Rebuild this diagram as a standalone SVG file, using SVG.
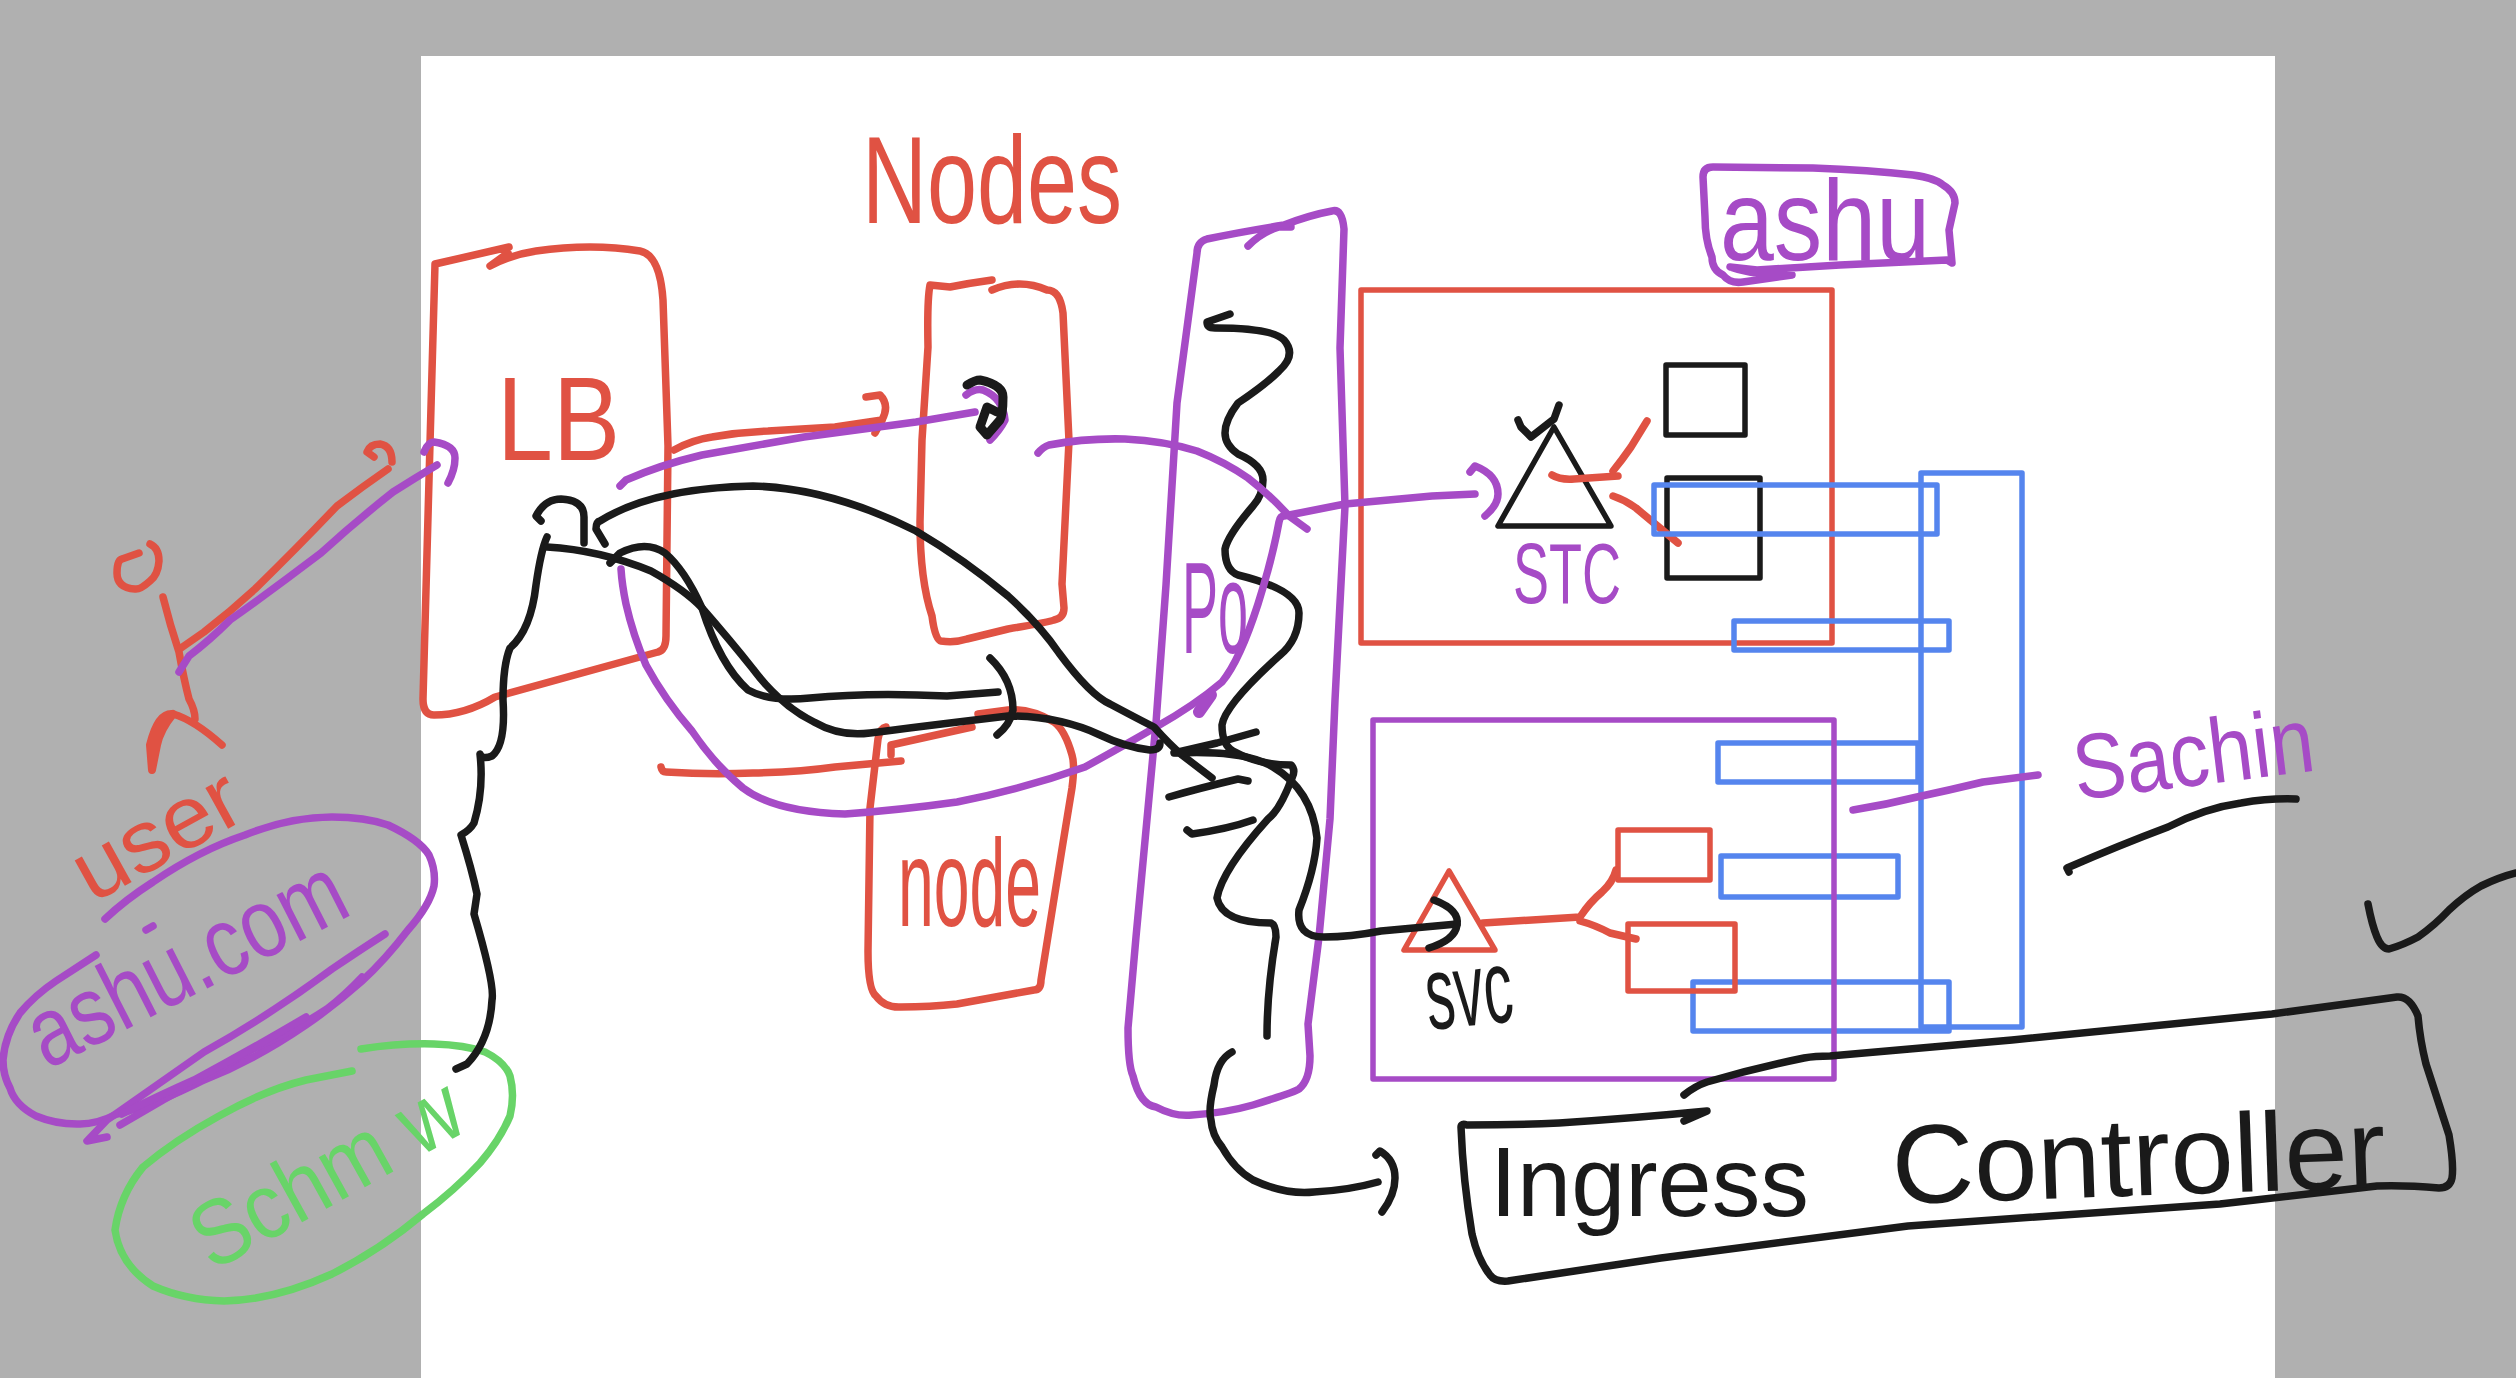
<svg xmlns="http://www.w3.org/2000/svg" width="2516" height="1378" viewBox="0 0 2516 1378">
<style>
path,polygon,rect{fill:none;stroke-linecap:round;stroke-linejoin:round;stroke-width:7.5}
rect,polygon{stroke-width:5.5}
.r{stroke:#E05243}.p{stroke:#A64BC6}.u{stroke:#5585EE}.g{stroke:#68D468}.k{stroke:#1A1A1A}
text{font-family:"Liberation Sans",Arial,sans-serif}
.tr{fill:#E05243}.tp{fill:#A64BC6}.tg{fill:#68D468}.tk{fill:#1A1A1A}
</style>
<rect width="2516" height="1378" style="fill:#B0B0B0;stroke:none"/>
<rect x="421" y="56" width="1854" height="1322" style="fill:#FFFFFF;stroke:none"/>

<g id="user">
<path class="r" d="M150,544 Q159,548 159,561 Q158,575 150,581 Q140,590 135,589 Q117,588 117,573 Q117,560 122,559 L139,553"/>
<path class="r" d="M163,597 Q170,625 179,652 Q184,680 189,699 Q195,710 195,719"/>
<path class="r" d="M173,714 Q194,720 222,745"/>
<path class="r" d="M173,714 Q158,712 150,745 L152,770 L157,745 Q160,730 173,714" style="stroke-width:8"/>
<text class="tr" transform="translate(92,904) rotate(-29)" font-size="88" textLength="180" lengthAdjust="spacingAndGlyphs">user</text>
</g>

<g id="ashu-com">
<path class="p" d="M105,919 Q125,900 153,882 Q200,850 245,835 Q290,817 332,817 Q365,817 388,825 Q420,840 429,855 Q436,870 434,886 Q430,905 408,930 Q385,960 362,981 Q335,1005 306,1025 Q255,1060 204,1080 Q155,1105 117,1114 Q95,1125 77,1124 Q55,1124 36,1116 Q15,1105 10,1088 Q3,1075 3,1060 Q5,1035 20,1013 Q35,995 56,981 L96,955"/>
<path class="p" d="M385,934 Q360,950 332,969 Q270,1015 204,1052 Q150,1090 107,1120 L87,1141 L107,1137"/>
<path class="p" d="M120,1125 L163,1100 Q210,1075 255,1048 Q295,1030 327,1009 Q345,995 362,977"/>
<path class="p" d="M122,1114 Q160,1095 194,1080 Q250,1050 306,1017"/>
<path class="p" d="M146,930 L153,926"/>
<text class="tp" transform="translate(47,1070) rotate(-27)" font-size="98" textLength="345" lengthAdjust="spacingAndGlyphs">ashu.com</text>
</g>

<g id="schin">
<path class="g" d="M361,1049 Q400,1043 434,1044 Q465,1045 485,1052 Q505,1062 510,1076 Q515,1095 510,1116 Q500,1140 480,1163 Q455,1190 423,1214 Q380,1250 332,1274 Q275,1300 224,1301 Q185,1300 153,1286 Q120,1265 115,1230 Q120,1195 143,1167 Q175,1140 219,1116 Q265,1090 306,1080 L352,1071"/>
<text class="tg" transform="translate(212,1272) rotate(-29)" font-size="92" textLength="296" lengthAdjust="spacingAndGlyphs">Schm w</text>
</g>

<g id="lb">
<path class="r" d="M509,247 L435,264 L431,407 L423,699 Q423,715 434,715 Q465,715 495,697 L658,652 Q666,650 666,636 L668,446 L663,300 Q660,255 640,251 Q592,243 536,251 Q510,255 490,266 L508,253"/>
<text class="tr" x="497" y="460" font-size="118" textLength="123" lengthAdjust="spacingAndGlyphs">LB</text>
</g>

<g id="nodes-label">
<text class="tr" x="862" y="223" font-size="125" textLength="260" lengthAdjust="spacingAndGlyphs">Nodes</text>
</g>

<g id="node-1">
<path class="r" d="M992,280 Q970,283 950,287 L930,285 Q927,300 928,347 L922,440 L920,522 Q920,580 932,616 Q935,640 941,641 Q955,643 967,639 L1008,629 Q1050,622 1054,620 Q1064,618 1064,608 L1062,584 L1069,441 L1063,313 Q1060,290 1047,290 Q1020,278 992,290"/>
</g>

<g id="node-2">
<path class="r" d="M886,727 Q880,728 878,739 L870,808 L868,951 Q868,990 876,996 Q885,1008 901,1007 Q930,1007 957,1004 L1034,990 Q1041,990 1041,980 L1062,849 L1072,788 Q1075,765 1072,755 Q1065,730 1054,722 Q1030,708 1008,710 L978,714"/>
<path class="r" d="M661,767 Q662,772 666,772 Q710,775 753,773 Q800,772 835,767 L901,761"/>
<path class="r" d="M891,755 L891,745 L972,727"/>
<text class="tr" x="898" y="926" font-size="125" textLength="143" lengthAdjust="spacingAndGlyphs">node</text>
</g>

<g id="pods">
<path class="p" d="M1248,246 Q1262,232 1279,227 L1291,227"/>
<path class="p" d="M1284,225 Q1240,232 1207,239 Q1197,242 1197,253 L1177,403 L1166,585 L1156,723 L1136,937 L1128,1028 Q1128,1065 1133,1076 Q1140,1105 1156,1107 Q1175,1117 1192,1115 Q1225,1113 1253,1105 Q1295,1092 1299,1089 Q1310,1080 1310,1056 L1308,1024 L1319,937 L1330,819 L1335,700 L1345,506 L1340,348 L1344,229 Q1342,208 1332,211 Q1310,215 1284,225"/>
<path class="k" d="M1230,314 L1207,322 Q1207,328 1215,328 Q1273,328 1284,340 Q1297,355 1279,371 Q1265,385 1238,403 Q1225,420 1225,433 Q1225,445 1238,454 Q1263,465 1263,480 Q1263,495 1253,506 Q1228,535 1225,549 Q1225,570 1238,575 Q1299,590 1299,613 Q1299,640 1279,656 Q1225,705 1222,725 Q1222,745 1233,751 Q1258,765 1291,765 Q1296,770 1292,778 Q1280,810 1268,819 Q1222,870 1217,898 Q1222,923 1271,923 Q1276,925 1276,937 Q1267,990 1267,1036"/>
<path class="k" d="M1256,732 L1217,743 L1174,753"/>
<path class="k" d="M1169,797 Q1200,788 1238,779 L1248,781"/>
<path class="k" d="M1187,830 L1192,834 Q1228,829 1253,820"/>
<text class="tp" x="1182" y="653" font-size="130" textLength="66" lengthAdjust="spacingAndGlyphs">Po</text>
</g>

<g id="ns-ashu">
<rect class="r" x="1361" y="290" width="471" height="353"/>
<polygon class="k" points="1554,427 1498,526 1611,526"/>
<rect class="k" x="1666" y="365" width="79" height="70"/>
<rect class="k" x="1667" y="478" width="93" height="100"/>
<path class="k" d="M1518,420 L1521,427 L1531,437 L1554,419 L1559,405"/>
<path class="r" d="M1552,475 Q1560,480 1574,479 L1618,476"/>
<path class="r" d="M1613,471 Q1622,460 1631,447 L1647,421"/>
<path class="r" d="M1613,496 Q1625,500 1636,508 L1678,543"/>
<text class="tp" x="1513" y="603" font-size="86" textLength="108" lengthAdjust="spacingAndGlyphs">STC</text>
</g>

<g id="ashu-label">
<path class="p" d="M1952,263 L1947,260 L1840,265 L1757,270 L1730,267 Q1745,272 1757,273 L1792,275 L1743,282 Q1730,284 1723,275 Q1712,270 1712,257 Q1705,240 1705,217 L1703,177 Q1703,167 1713,167 L1813,168 Q1870,170 1913,175 Q1935,178 1943,185 Q1955,192 1955,203 L1949,230 Z"/>
<text class="tp" x="1720" y="260" font-size="115" textLength="210" lengthAdjust="spacingAndGlyphs">ashu</text>
</g>

<g id="ns-sachin">
<rect class="u" x="1654" y="485" width="283" height="49"/>
<rect class="u" x="1734" y="621" width="215" height="29"/>
<rect class="u" x="1921" y="473" width="101" height="554"/>
<rect class="u" x="1718" y="743" width="200" height="39"/>
<rect class="u" x="1721" y="856" width="177" height="41"/>
<rect class="u" x="1693" y="982" width="256" height="49"/>
</g>

<g id="ns-schin">
<rect class="p" x="1373" y="720" width="461" height="359"/>
<polygon class="r" points="1449,871 1404,950 1495,950"/>
<rect class="r" x="1618" y="830" width="92" height="50"/>
<rect class="r" x="1628" y="924" width="107" height="67"/>
<path class="r" d="M1483,923 L1580,917 Q1590,902 1602,892 Q1613,882 1616,870"/>
<path class="r" d="M1580,921 Q1595,925 1610,933 L1636,939"/>
<text class="tk" transform="translate(1429,1030) rotate(-6)" font-size="105" textLength="87" lengthAdjust="spacingAndGlyphs">svc</text>
</g>

<g id="sachin-label">
<path class="p" d="M1853,810 Q1885,805 1917,797 Q1950,790 1983,782 L2038,775"/>
<text class="tp" transform="translate(2077,800) rotate(-7)" font-size="92" textLength="242" lengthAdjust="spacingAndGlyphs">Sachin</text>
<path class="k" d="M2069,872 L2067,868 Q2120,845 2168,827 Q2205,808 2241,803 Q2270,798 2296,799"/>
<path class="k" d="M2368,904 Q2372,925 2377,937 Q2382,949 2389,949 Q2403,945 2418,937 Q2435,925 2449,910 Q2465,895 2481,886 Q2500,877 2516,873"/>
</g>

<g id="ingress-controller">
<path class="k" d="M1684,1095 Q1695,1086 1707,1082 Q1755,1068 1804,1058 Q1815,1056 1830,1056 L2012,1040 L2272,1014 L2397,997 Q2410,996 2418,1016 Q2420,1040 2426,1064 L2449,1135 Q2454,1165 2452,1178 Q2450,1188 2439,1188 Q2405,1185 2377,1186 L2220,1204 L1908,1226 L1661,1258 L1508,1281 Q1495,1282 1490,1275 Q1478,1260 1472,1234 Q1463,1180 1461,1127 Q1461,1123 1467,1125 Q1515,1125 1559,1123 Q1635,1118 1707,1111 L1684,1121"/>
<text class="tk" x="1490" y="1216" font-size="98" textLength="319" lengthAdjust="spacingAndGlyphs">Ingress</text>
<text class="tk" transform="translate(1893,1204) rotate(-2)" font-size="112" textLength="494" lengthAdjust="spacingAndGlyphs">Controller</text>
</g>

<g id="connectors">
<path class="r" d="M388,469 Q362,487 337,506 Q295,550 255,589 Q230,612 204,632 L181,648"/>
<path class="r" d="M374,457 L367,452 Q370,444 380,444 Q392,446 392,462"/>
<path class="p" d="M437,465 Q415,478 393,492 Q355,522 321,553 Q275,588 230,620 Q210,640 189,656 L179,672"/>
<path class="p" d="M424,452 Q428,442 434,442 Q455,445 455,458 Q455,470 448,483"/>
<path class="r" d="M674,450 Q692,440 712,437 Q740,432 768,431 L835,427 L882,420 Q890,405 880,395 L866,397"/>
<path class="r" d="M875,433 L882,420"/>
<path class="p" d="M620,486 L626,480 Q660,465 702,455 L804,437 L916,422 L975,412"/>
<path class="p" d="M966,395 Q975,388 983,390 Q1003,398 1005,420 Q1000,430 990,440"/>
<path class="k" d="M967,385 Q975,380 980,380 Q1003,385 1003,397 Q1003,415 1000,420 L987,435 L980,427 L987,407 L997,412" style="stroke-width:9"/>
<path class="p" d="M621,569 Q622,585 626,604 Q633,635 646,665 Q665,700 692,731 Q715,765 743,788 Q775,812 845,814 Q900,810 957,802 Q1020,790 1085,767 Q1125,745 1156,727 Q1195,705 1222,682 Q1240,660 1258,604 Q1272,560 1279,522 Q1280,516 1284,516 L1345,504 L1432,496 L1475,494"/>
<path class="p" d="M1470,472 L1475,466 Q1498,475 1498,494 Q1498,505 1485,516"/>
<path class="p" d="M1199,712 L1211,695" style="stroke-width:12"/>
<path class="p" d="M1038,453 Q1043,447 1049,445 Q1085,438 1125,439 Q1165,441 1197,451 Q1225,462 1248,478 Q1270,495 1289,516 L1307,529"/>
<path class="k" d="M541,521 L536,516 Q545,499 561,499 Q584,500 584,517 L584,543"/>
<path class="k" d="M605,544 L596,529 Q596,522 600,521 Q653,488 753,486 Q830,488 916,531 Q965,560 1008,596 Q1040,625 1059,653 Q1090,695 1110,704 Q1140,720 1154,727 Q1170,745 1182,755 L1212,778"/>
<path class="k" d="M547,537 Q541,550 536,585 Q531,630 510,648 Q503,665 503,700 Q506,745 492,756 Q482,760 480,754 Q484,790 474,823 Q470,830 461,835 Q472,870 477,894 L474,914 Q495,985 492,1000 Q490,1040 467,1064 L456,1069"/>
<path class="k" d="M547,547 Q600,550 651,571 Q685,590 702,608 Q730,640 753,669 Q780,705 814,722 Q840,737 870,733 Q916,727 1008,716 Q1059,716 1100,735 Q1125,747 1150,750 Q1160,750 1160,743"/>
<path class="k" d="M610,563 L620,553 Q646,540 665,553 Q685,570 702,608 Q720,665 748,690 Q770,702 810,698 Q870,692 947,696 L998,692"/>
<path class="k" d="M990,658 Q1013,680 1013,710 Q1010,725 997,735"/>
<path class="k" d="M1177,753 Q1245,750 1273,767 Q1312,790 1317,838 Q1315,870 1299,910 Q1296,937 1324,937 Q1350,937 1381,931 L1457,924"/>
<path class="k" d="M1434,900 Q1460,910 1457,925 Q1455,940 1429,948"/>
<path class="k" d="M1232,1052 Q1217,1060 1214,1085 Q1208,1110 1211,1120 Q1212,1135 1222,1147 Q1235,1170 1253,1180 Q1285,1195 1314,1192 Q1350,1190 1378,1182"/>
<path class="k" d="M1376,1155 L1380,1151 Q1395,1160 1395,1178 Q1395,1195 1382,1212"/>
</g>
</svg>
